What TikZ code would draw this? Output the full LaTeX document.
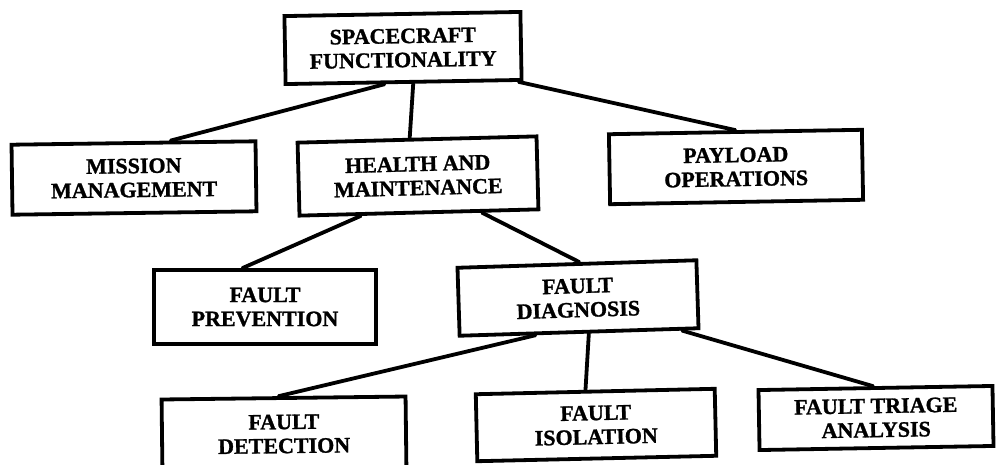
\documentclass[tikz,border=0pt]{standalone}
\usepackage{fontspec}
\setmainfont{Liberation Serif}[BoldFeatures={FakeBold=1.2}]
\usetikzlibrary{calc}

\tikzset{
  unitbox/.style={draw, line width=3.8pt, rectangle, inner sep=0pt,
    align=center, font=\fontsize{22}{24}\selectfont\bfseries},
  link/.style={line width=3.8pt, line cap=round}
}

\begin{document}
\begin{tikzpicture}[x=1pt, y=-1pt]
  \useasboundingbox[fill=white] (0,0) rectangle (998,464);

  % tree levels, top to bottom
  \node[unitbox, minimum width=236pt, minimum height=68pt, rotate=1.0] (space) at (403,48)
    {SPACECRAFT\\FUNCTIONALITY};

  \node[unitbox, minimum width=244pt, minimum height=70pt, rotate=0.8] (mission) at (134,178)
    {MISSION\\MANAGEMENT};
  \node[unitbox, minimum width=239pt, minimum height=73pt, rotate=1.5] (health) at (418,176)
    {HEALTH AND\\MAINTENANCE};
  \node[unitbox, minimum width=253pt, minimum height=70pt, rotate=1.0] (payload) at (736,167)
    {PAYLOAD\\OPERATIONS};

  \node[unitbox, minimum width=222pt, minimum height=74pt, rotate=0.0] (prevention) at (265,307)
    {FAULT\\PREVENTION};
  \node[unitbox, minimum width=239pt, minimum height=68pt, rotate=1.8] (diagnosis) at (578,298)
    {FAULT\\DIAGNOSIS};

  \node[unitbox, minimum width=244pt, minimum height=72pt, rotate=0.7] (detection) at (284,434)
    {FAULT\\DETECTION};
  \node[unitbox, minimum width=239pt, minimum height=67pt, rotate=1.3] (isolation) at (596,425)
    {FAULT\\ISOLATION};
  \node[unitbox, minimum width=234pt, minimum height=60pt, rotate=1.0] (triage) at (876,418)
    {FAULT TRIAGE\\ANALYSIS};

  % connectors
  \draw[link] ($(space.south west)!0.42!(space.south east)$) -- ($(mission.north west)!0.65!(mission.north east)$);
  \draw[link] ($(space.south west)!0.54!(space.south east)$) -- ($(health.north west)!0.47!(health.north east)$);
  \draw[link] ($(space.south west)!0.98!(space.south east)$) -- ($(payload.north west)!0.50!(payload.north east)$);

  \draw[link] ($(health.south west)!0.26!(health.south east)$) -- ($(prevention.north west)!0.40!(prevention.north east)$);
  \draw[link] ($(health.south west)!0.76!(health.south east)$) -- ($(diagnosis.north west)!0.51!(diagnosis.north east)$);

  \draw[link] ($(diagnosis.south west)!0.32!(diagnosis.south east)$) -- ($(detection.north west)!0.48!(detection.north east)$);
  \draw[link] ($(diagnosis.south west)!0.54!(diagnosis.south east)$) -- ($(isolation.north west)!0.46!(isolation.north east)$);
  \draw[link] ($(diagnosis.south west)!0.925!(diagnosis.south east)$) -- ($(triage.north west)!0.49!(triage.north east)$);
\end{tikzpicture}
\end{document}
